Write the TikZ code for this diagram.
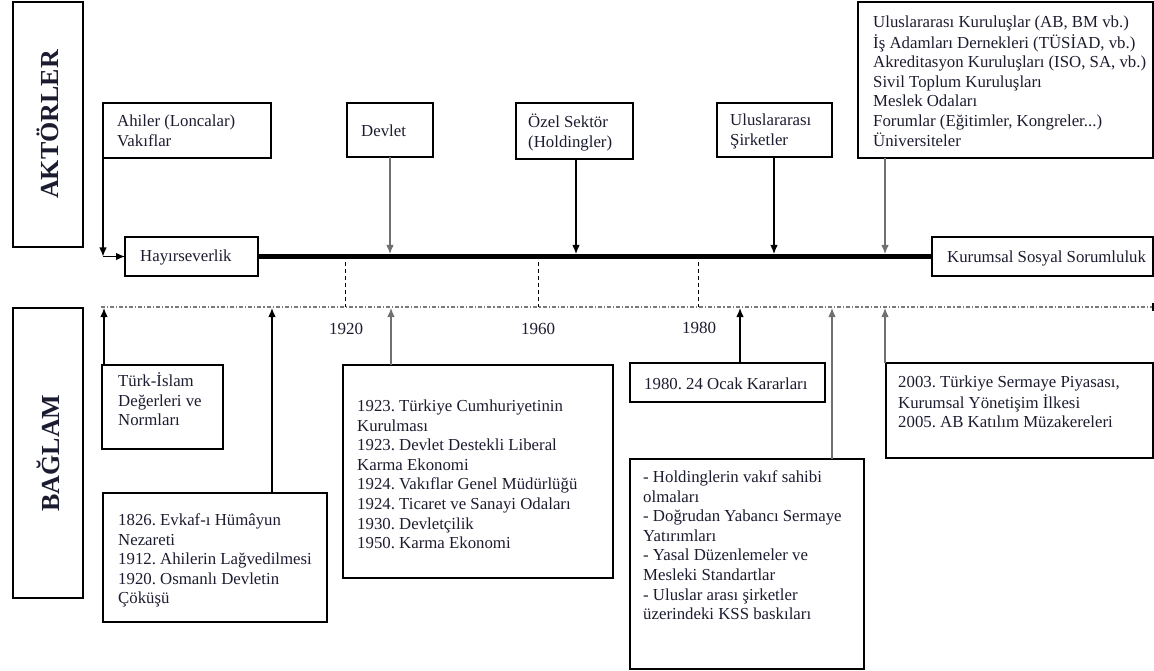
\documentclass[tikz,border=0pt]{standalone}
\usepackage{fontspec}
\setmainfont{Liberation Serif}
\usetikzlibrary{arrows.meta,calc}
\definecolor{ink}{HTML}{1C1C30}
\definecolor{lgray}{HTML}{7A7A7A}
\definecolor{agray}{HTML}{707070}
\frenchspacing
\begin{document}
\begin{tikzpicture}[x=1pt,y=-1pt,
  box/.style={draw=black, line width=1.2pt, anchor=north west, inner sep=0pt, outer sep=0pt},
  mainbox/.style={box, line width=2pt},
  txt/.style={anchor=north west, inner sep=0pt, align=left, text=ink, font=\fontsize{16.8}{19.6}\selectfont\frenchspacing},
  yr/.style={inner sep=0pt, text=ink, font=\fontsize{17}{20}\selectfont},
  side/.style={text=ink, font=\fontsize{26}{30}\selectfont\bfseries, rotate=90},
  arr/.style={line width=1.2pt, draw=black, -{Latex[length=9pt,width=7.5pt]}},
  garr/.style={arr, draw=agray},
  dashv/.style={line width=1pt, draw=black, dash pattern=on 4pt off 3pt},
  dotl/.style={line width=1.1pt, draw=lgray, dash pattern=on 4pt off 2pt on 1.2pt off 2pt}
  ]
\useasboundingbox (0,0) rectangle (1154,671);

% side labels
\node[box, minimum width=70, minimum height=245] (akt) at (13,2) {};
\node[side] (aktt) at (akt.center) {AKTÖRLER};
\node[box, minimum width=70, minimum height=290] (bag) at (13,308) {};
\node[side] (bagt) at (bag.center) {BAĞLAM};

% actor boxes
\node[box, minimum width=168, minimum height=55] (ahiler) at (103,103) {};
\node[txt] (ahilert) at (117,112.5) {\strut Ahiler (Loncalar)\\Vakıflar};
\node[box, minimum width=86, minimum height=54] (devlet) at (347,103) {};
\node[txt] (devlett) at (361,122.5) {\strut Devlet};
\node[box, minimum width=117, minimum height=56] (ozel) at (516,103) {};
\node[txt] (ozelt) at (528,113.5) {\strut Özel Sektör\\(Holdingler)};
\node[box, minimum width=115, minimum height=54] (us) at (717,103) {};
\node[txt] (ust) at (730,111.5) {\strut Uluslararası\\Şirketler};
\node[box, minimum width=295, minimum height=156] (tr) at (858,2) {};
\node[txt] (trt) at (873,13.5) {\strut Uluslararası Kuruluşlar (AB, BM vb.)\\İş Adamları Dernekleri (TÜSİAD, vb.)\\Akreditasyon Kuruluşları (ISO, SA, vb.)\\Sivil Toplum Kuruluşları\\Meslek Odaları\\Forumlar (Eğitimler, Kongreler...)\\Üniversiteler};

% main line
\node[mainbox, minimum width=133, minimum height=39] (hayir) at (125,237) {};
\node[txt] (hayirt) at (140,247.5) {\strut Hayırseverlik};
\node[mainbox, minimum width=221, minimum height=39] (kss) at (932,237) {};
\node[txt] (ksst) at (947,248.5) {\strut Kurumsal Sosyal Sorumluluk};
\draw[line width=4.5pt] (hayir.east) -- (kss.west);

% actor arrows
\coordinate (c0) at (103,256.5);
\draw[arr] (ahiler.south west) -- (c0);
\draw[arr] (c0) -- (hayir.west);
\coordinate (a1) at (390,254);
\coordinate (a2) at (576,254);
\coordinate (a3) at (774,254);
\coordinate (a4) at (885,254);
\draw[garr] (devlet.south -| a1) -- (a1);
\draw[arr] (ozel.south -| a2) -- (a2);
\draw[arr] (us.south -| a3) -- (a3);
\draw[garr] (tr.south -| a4) -- (a4);

% years
\coordinate (d1a) at (345,262); \coordinate (d1b) at (345,307);
\coordinate (d2a) at (538,262); \coordinate (d2b) at (538,307);
\coordinate (d3a) at (698,262); \coordinate (d3b) at (698,307);
\draw[dashv] (d1a) -- (d1b);
\draw[dashv] (d2a) -- (d2b);
\draw[dashv] (d3a) -- (d3b);
\node[yr] (y1920) at (346,329) {1920};
\node[yr] (y1960) at (538,329) {1960};
\node[yr] (y1980) at (699,328) {1980};

% context line
\coordinate (l0) at (101,307);
\coordinate (l1) at (1153,307);
\draw[dotl] (l0) -- (l1);
\coordinate (l1a) at (1153,303);
\coordinate (l1b) at (1153,311);
\draw[line width=1.2pt] (l1a) -- (l1b);

% context boxes
\node[box, minimum width=121, minimum height=84] (turk) at (102,365) {};
\node[txt] (turkt) at (118,372.5) {\strut Türk-İslam\\Değerleri ve\\Normları};
\node[box, minimum width=224, minimum height=129] (o1826) at (103,493) {};
\node[txt] (o1826t) at (118,511.5) {\strut 1826. Evkaf-ı Hümâyun\\Nezareti\\1912. Ahilerin Lağvedilmesi\\1920. Osmanlı Devletin\\Çöküşü};
\node[box, minimum width=270, minimum height=213] (o1923) at (343,365) {};
\node[txt] (o1923t) at (357,397.5) {\strut 1923. Türkiye Cumhuriyetinin\\Kurulması\\1923. Devlet Destekli Liberal\\Karma Ekonomi\\1924. Vakıflar Genel Müdürlüğü\\1924. Ticaret ve Sanayi Odaları\\1930. Devletçilik\\1950. Karma Ekonomi};
\node[box, minimum width=195, minimum height=39] (o1980) at (630,363) {};
\node[txt] (o1980t) at (644,375.5) {\strut 1980. 24 Ocak Kararları};
\node[box, minimum width=234, minimum height=210] (hold) at (630,459) {};
\node[txt] (holdt) at (643,468.5) {\strut - Holdinglerin vakıf sahibi\\olmaları\\- Doğrudan Yabancı Sermaye\\Yatırımları\\- Yasal Düzenlemeler ve\\Mesleki Standartlar\\- Uluslar arası şirketler\\üzerindeki KSS baskıları};
\node[box, minimum width=267, minimum height=95] (o2003) at (886,363) {};
\node[txt] (o2003t) at (898,373.5) {\strut 2003. Türkiye Sermaye Piyasası,\\Kurumsal Yönetişim İlkesi\\2005. AB Katılım Müzakereleri};

% context arrows
\coordinate (b1) at (104,308);
\coordinate (b2) at (272,308);
\coordinate (b3) at (391,308);
\coordinate (b4) at (740,308);
\coordinate (b5) at (832,308);
\coordinate (b6) at (885,308);
\draw[arr] (turk.north -| b1) -- (b1);
\draw[arr] (o1826.north -| b2) -- (b2);
\draw[garr] (o1923.north -| b3) -- (b3);
\draw[arr] (o1980.north -| b4) -- (b4);
\draw[garr] (hold.north -| b5) -- (b5);
\draw[garr] (o2003.north -| b6) -- (b6);
\end{tikzpicture}
\end{document}
